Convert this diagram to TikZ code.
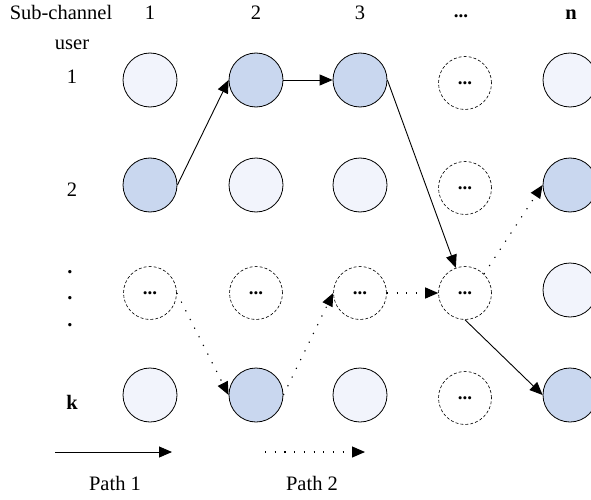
\documentclass[tikz,border=0pt]{standalone}
\usepackage{fontspec}
\setmainfont{Liberation Serif}
\usetikzlibrary{arrows.meta}
\definecolor{pale}{RGB}{242,244,252}
\definecolor{busy}{RGB}{201,215,239}
\newcommand{\gapdots}{\textbf{\fontsize{19}{19}\selectfont...}}

\begin{document}
\begin{tikzpicture}[
      x=1pt, y=-1pt,
      every node/.style={font=\fontsize{20.5}{24}\selectfont},
      lbl/.style={anchor=base},
      free/.style={circle,draw,line width=0.8pt,minimum size=54pt,inner sep=0pt,fill=pale},
      used/.style={free,fill=busy},
      gap/.style={circle,draw,line width=0.6pt,dash pattern=on 3pt off 2pt,
        minimum size=53pt,inner sep=0pt},
      path1/.style={-{Triangle[length=13pt,width=11pt]},line width=0.9pt},
      path2/.style={path1,line width=1.1pt,dash pattern=on 1.2pt off 8.5pt}
    ]
      \useasboundingbox (0,0) rectangle (591,500);

      % header and row labels
      \node[lbl] (subch) at (61,20) {Sub-channel};
      \node[lbl] (user) at (72,50) {user};
      \node[lbl] (h1) at (150,20) {1};
      \node[lbl] (h2) at (256,20) {2};
      \node[lbl] (h3) at (360,20) {3};
      \node[lbl] (h4) at (461,18) {\gapdots};
      \node[lbl] (h5) at (571,20) {\textbf{n}};
      \node[lbl] (r1) at (72,84) {1};
      \node[lbl] (r2) at (72,196) {2};
      \foreach \y/\i in {272/a,298/b,325/c}
        \node (rd\i) at (70,\y) {\textbf{.}};
      \node[lbl] (r4) at (72,409) {\textbf{k}};

      % sub-channels
      \node[free] (c11) at (150,80) {};
      \node[used] (c12) at (256,80) {};
      \node[used] (c13) at (360,80) {};
      \node[gap]  (c14) at (465,83) {\gapdots};
      \node[free] (c15) at (570,80) {};

      \node[used] (c21) at (150,185) {};
      \node[free] (c22) at (256,185) {};
      \node[free] (c23) at (360,185) {};
      \node[gap]  (c24) at (465,188) {\gapdots};
      \node[used] (c25) at (570,185) {};

      \node[gap]  (c31) at (150,293) {\gapdots};
      \node[gap]  (c32) at (256,293) {\gapdots};
      \node[gap]  (c33) at (360,293) {\gapdots};
      \node[gap]  (c34) at (465,293) {\gapdots};
      \node[free] (c35) at (570,290) {};

      \node[free] (c41) at (150,395) {};
      \node[used] (c42) at (256,395) {};
      \node[free] (c43) at (360,395) {};
      \node[gap]  (c44) at (465,398) {\gapdots};
      \node[used] (c45) at (570,395) {};

      % path 1
      \draw[path1] (c21.east) -- (c12.west);
      \draw[path1] (c12.east) -- (c13.west);
      \draw[path1] (c13.east) -- (c34);
      \draw[path1] (c34.south) -- (c45.west);

      % path 2
      \draw[path2] (c31.east) -- (c42.west);
      \draw[path2] (c42.east) -- (c33.west);
      \draw[path2] (c33.east) -- (c34.west);
      \draw[path2] (c34.north east) -- (c25.west);

      % legend
      \coordinate (l1a) at (55,452);
      \coordinate (l1b) at (172,452);
      \coordinate (l2a) at (265,452);
      \coordinate (l2b) at (365,452);
      \draw[path1] (l1a) -- (l1b);
      \draw[path2] (l2a) -- (l2b);
      \node[lbl] (p1) at (115,490) {Path 1};
      \node[lbl] (p2) at (312,490) {Path 2};
    \end{tikzpicture}
\end{document}
